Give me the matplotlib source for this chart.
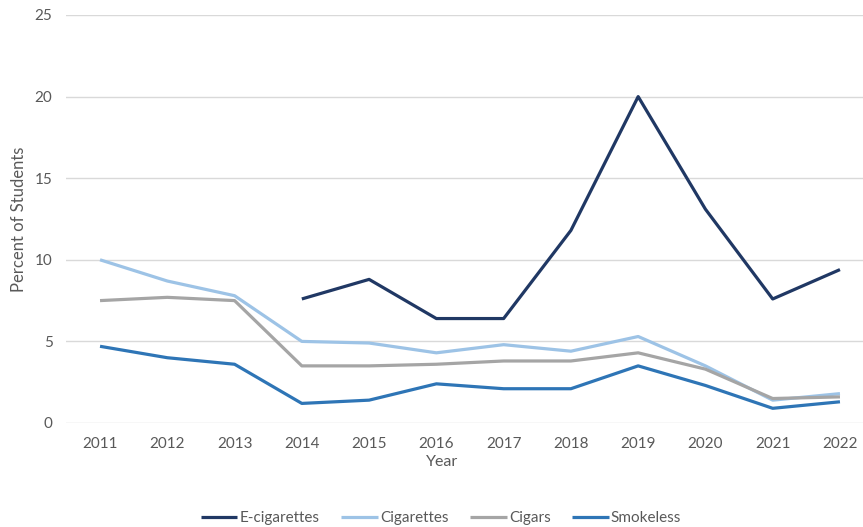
import matplotlib
matplotlib.use("Agg")
import matplotlib.pyplot as plt
import numpy as np

plt.rcParams['font.family'] = ['Lato', 'DejaVu Sans']

years = [2011, 2012, 2013, 2014, 2015, 2016, 2017, 2018, 2019, 2020, 2021, 2022]
e_cigarettes = [np.nan, np.nan, np.nan, 7.6, 8.8, 6.4, 6.4, 11.8, 20.0, 13.1, 7.6, 9.4]
cigarettes = [10.0, 8.7, 7.8, 5.0, 4.9, 4.3, 4.8, 4.4, 5.3, 3.5, 1.4, 1.8]
cigars = [7.5, 7.7, 7.5, 3.5, 3.5, 3.6, 3.8, 3.8, 4.3, 3.3, 1.5, 1.6]
smokeless = [4.7, 4.0, 3.6, 1.2, 1.4, 2.4, 2.1, 2.1, 3.5, 2.3, 0.9, 1.3]

series = [
    ("E-cigarettes", e_cigarettes, "#203864"),
    ("Cigarettes", cigarettes, "#9DC3E6"),
    ("Cigars", cigars, "#A5A5A5"),
    ("Smokeless", smokeless, "#2E75B6"),
]

text_color = '#595959'

fig = plt.figure(figsize=(8.63, 5.27), dpi=100)
ax = fig.add_axes([66.4 / 863, 1 - 423 / 527, (873.6 - 66.4) / 863, (423 - 15) / 527])

for name, vals, color in series:
    ax.plot(years, vals, color=color, lw=2.3, label=name, solid_capstyle='butt')

ax.set_xlim(2010.5, 2022.5)
ax.set_ylim(0, 25)
ax.set_yticks(range(0, 26, 5))
ax.set_xticks(years)
ax.set_xticklabels([str(y) for y in years])
ax.grid(axis='y', color='#D9D9D9', lw=1)
ax.set_axisbelow(True)
for s in ax.spines.values():
    s.set_visible(False)
ax.tick_params(length=0, labelsize=11, colors=text_color)
ax.tick_params(axis='y', pad=10)
ax.tick_params(axis='x', pad=10)

ax.set_xlabel("Year", fontsize=11.5, color=text_color)
ax.xaxis.set_label_coords(0.465, (423 - 462) / 408)
ax.xaxis.label.set_verticalalignment('center')

ax.set_ylabel("Percent of Students", fontsize=12, color=text_color)
ax.yaxis.set_label_coords((19 - 66.4) / 807.2, 0.5)
ax.yaxis.label.set_verticalalignment('center')

fig.legend(loc='center', bbox_to_anchor=(441 / 863, 1 - 518 / 527), ncol=4,
           frameon=False, fontsize=11, handlelength=2.4, handletextpad=0.15,
           columnspacing=1.4, labelcolor=text_color)

fig.savefig("out.png", dpi=100)
